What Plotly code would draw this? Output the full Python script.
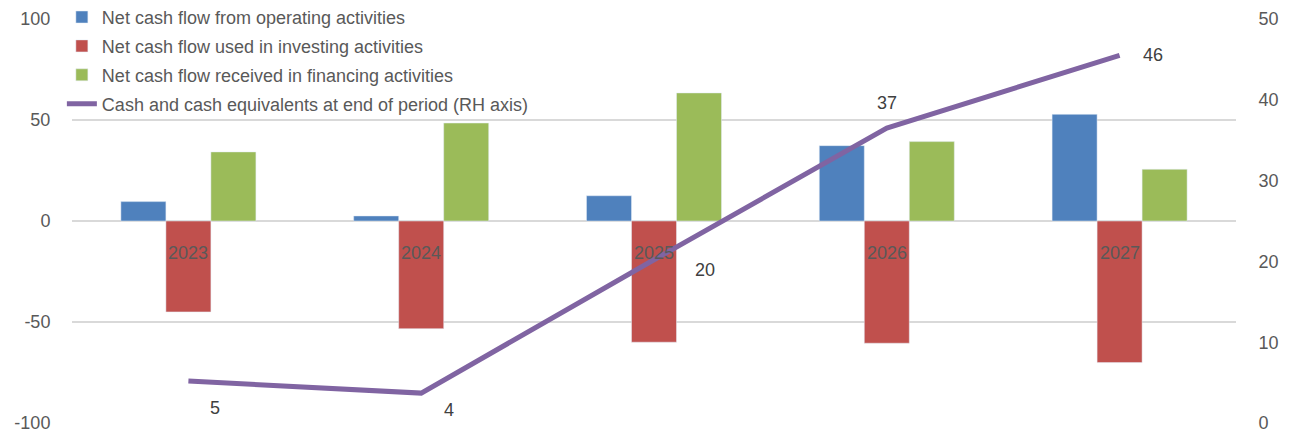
import plotly.graph_objects as go

years = ["2023", "2024", "2025", "2026", "2027"]
operating = [9.6, 2.5, 12.5, 37.3, 52.8]
investing = [-45.0, -53.3, -60.0, -60.5, -70.1]
financing = [34.2, 48.5, 63.4, 39.3, 25.6]
cash_end = [5.2, 3.7, 20.2, 36.5, 45.5]
cash_labels = ["5", "4", "20", "37", "46"]

left_tick_vals = [-100, -50, 0, 50, 100]
left_tick_text = ["-100", "-50", "0", "50", "100"]
right_tick_vals = [0, 10, 20, 30, 40, 50]

names = [
    "Net cash flow from operating activities",
    "Net cash flow used in investing activities",
    "Net cash flow received in financing activities",
    "Cash and cash equivalents at end of period (RH axis)",
]
colors = ["#4f81bd", "#c0504d", "#9bbb59", "#8064a2"]
label_shift_x = [27, 28, 51, 0, 33]
label_shift_y = [-27, -17, -10, 25, 0]

FONT = "Liberation Sans"
TXT = "#595959"

fig = go.Figure()
for i, (vals, nm, col) in enumerate(zip([operating, investing, financing], names[:3], colors[:3])):
    fig.add_trace(go.Bar(x=years, y=vals, name=nm, marker_color=col, legendgroup=f"g{i}"))

fig.add_trace(go.Scatter(x=years, y=cash_end, name=names[3], yaxis="y2", mode="lines",
                         legendgroup="g3", line=dict(color=colors[3], width=5)))

# annotations on a category axis use the category index as x
for i, (v, t, dx, dy) in enumerate(zip(cash_end, cash_labels, label_shift_x, label_shift_y)):
    fig.add_annotation(x=i, y=v, xref="x", yref="y2", text=t, showarrow=False,
                       xshift=dx, yshift=dy, font=dict(size=18, color="#404040", family=FONT))

for i, yr in enumerate(years):
    fig.add_annotation(x=i, y=0, xref="x", yref="y", text=yr, showarrow=False,
                       yshift=-32, font=dict(size=18, color=TXT, family=FONT))

fig.update_layout(
    width=1296, height=435,
    margin=dict(l=64, r=68, t=11, b=20, autoexpand=False),
    paper_bgcolor="white", plot_bgcolor="white",
    barmode="group", bargap=0.42, bargroupgap=0,
    font=dict(family=FONT, size=18, color=TXT),
    showlegend=True,
    legend=dict(x=-0.0087, y=1.05, xanchor="left", yanchor="top", bgcolor="rgba(0,0,0,0)",
                traceorder="grouped", tracegroupgap=2.5,
                font=dict(size=18, color=TXT, family=FONT)),
    xaxis=dict(type="category", categoryorder="array", categoryarray=years,
               range=[-0.5, len(years) - 0.5], autorange=False,
               showline=False, ticks="", showgrid=False, showticklabels=False),
    yaxis=dict(range=[-100, 100], tickvals=left_tick_vals, ticktext=left_tick_text,
               showgrid=True, gridcolor="#d9d9d9", gridwidth=1.5,
               zeroline=True, zerolinecolor="#d9d9d9", zerolinewidth=1.5, showline=False,
               ticks="outside", ticklen=17, tickcolor="rgba(0,0,0,0)",
               tickfont=dict(size=18, color=TXT)),
    yaxis2=dict(range=[0, 50], tickvals=right_tick_vals, overlaying="y", side="right",
                showgrid=False, zeroline=False, showline=False, ticks="outside", ticklen=18,
                tickcolor="rgba(0,0,0,0)", tickfont=dict(size=18, color=TXT)),
)

fig.write_html("out.html")
